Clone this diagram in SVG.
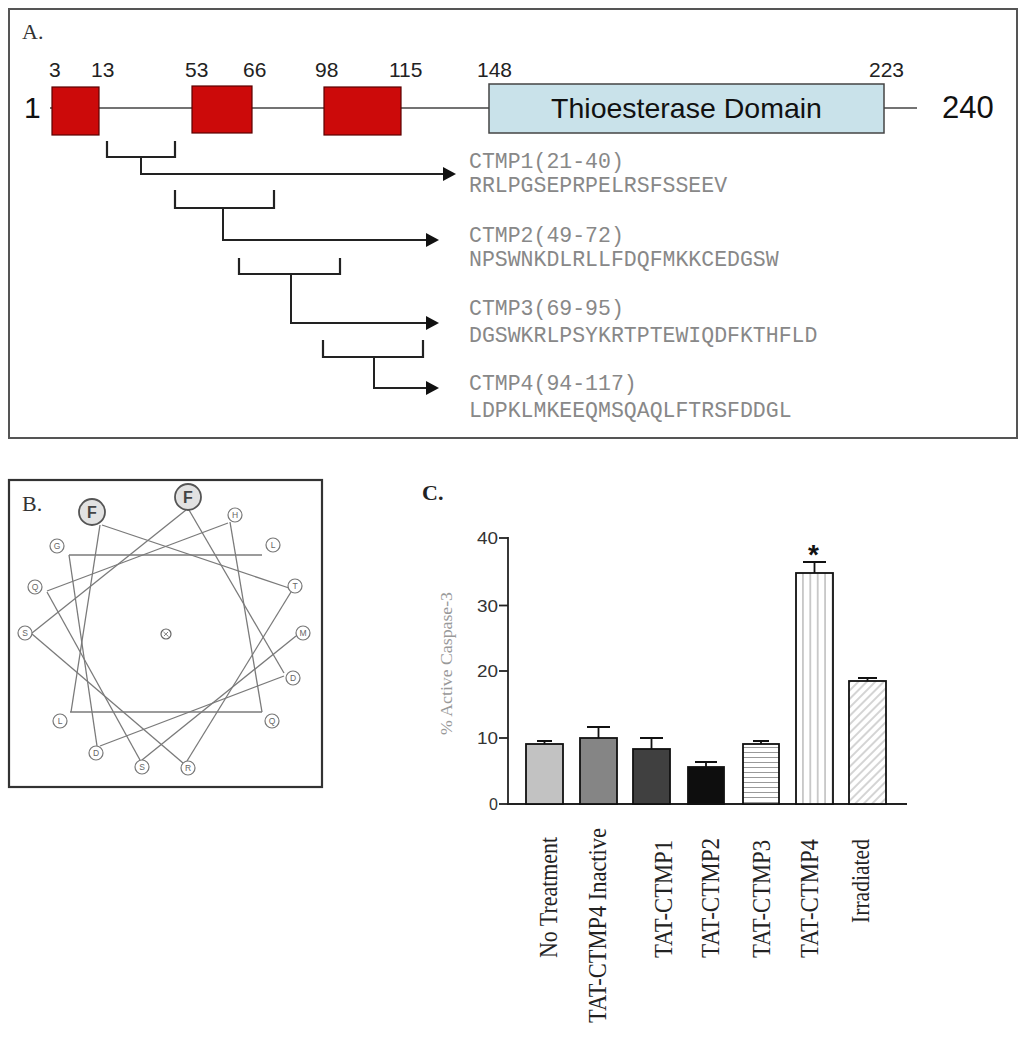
<svg xmlns="http://www.w3.org/2000/svg" width="1027" height="1050" viewBox="0 0 1027 1050">
<style>
.sans{font-family:"Liberation Sans",Arial,sans-serif}
.serif{font-family:"Liberation Serif","Times New Roman",serif}
.mono{font-family:"Liberation Mono","Courier New",monospace;font-size:21.5px;fill:#888}
.num{font-family:"Liberation Sans",Arial,sans-serif;font-size:21px;fill:#222}
.motif{fill:#cc0a0a;stroke:#5a0000;stroke-width:1.2}
.brk{fill:none;stroke:#222;stroke-width:2.2}
.arr{fill:none;stroke:#222;stroke-width:2}
.ah{fill:#111}
.wl{stroke:#7a7a7a;stroke-width:1.3;fill:none}
.res{fill:#fff;stroke:#777;stroke-width:1.2}
.resF{fill:#e2e2e2;stroke:#555;stroke-width:1.8}
.rl{font-family:"Liberation Sans",Arial,sans-serif;font-size:8.5px;fill:#666;text-anchor:middle}
.rf{font-family:"Liberation Sans",Arial,sans-serif;font-size:16px;font-weight:bold;fill:#444;text-anchor:middle}
.bar{stroke:#111;stroke-width:1.8}
.err{stroke:#111;stroke-width:1.8;fill:none}
.tick{font-family:"Liberation Sans",Arial,sans-serif;font-size:16px;fill:#333;text-anchor:end}
.xl{font-family:"Liberation Serif","Times New Roman",serif;font-size:26px;fill:#222;text-anchor:end}
</style>
<defs>
<pattern id="hz" patternUnits="userSpaceOnUse" width="10" height="5"><rect width="10" height="5" fill="#fff"/><line x1="0" y1="2.5" x2="10" y2="2.5" stroke="#999" stroke-width="1"/></pattern>
<pattern id="vt" patternUnits="userSpaceOnUse" width="7.4" height="10"><rect width="7.4" height="10" fill="#fff"/><line x1="3.7" y1="0" x2="3.7" y2="10" stroke="#999" stroke-width="1"/></pattern>
<pattern id="dg" patternUnits="userSpaceOnUse" width="6" height="6" patternTransform="rotate(45)"><rect width="6" height="6" fill="#fff"/><line x1="3" y1="0" x2="3" y2="6" stroke="#aaa" stroke-width="1"/></pattern>
</defs>
<rect width="1027" height="1050" fill="#fff"/>

<!-- Panel A -->
<g id="panelA">
<rect x="9" y="9" width="1008" height="429" fill="#fff" stroke="#555" stroke-width="2"/>
<text x="22" y="39" class="serif" font-size="22" fill="#333">A.</text>
<line x1="50" y1="108" x2="917" y2="108" stroke="#444" stroke-width="1.6"/>
<text x="24" y="118" class="sans" font-size="30" fill="#111">1</text>
<text x="942" y="118" class="sans" font-size="31" fill="#111">240</text>
</g>
<g id="motif1"><rect x="52" y="87" width="47" height="48" class="motif"/><text x="49" y="77" class="num">3</text><text x="91" y="77" class="num">13</text></g>
<g id="motif2"><rect x="192" y="86" width="60" height="47" class="motif"/><text x="185" y="77" class="num">53</text><text x="243" y="77" class="num">66</text></g>
<g id="motif3"><rect x="324" y="87" width="77" height="48" class="motif"/><text x="315" y="77" class="num">98</text><text x="389" y="77" class="num">115</text></g>
<g id="thioesterase"><rect x="489" y="84" width="395" height="49" fill="#c9e2ea" stroke="#444" stroke-width="1.5"/><text x="686.5" y="118" class="sans" font-size="28.5" fill="#111" text-anchor="middle">Thioesterase Domain</text><text x="477" y="77" class="num">148</text><text x="869" y="77" class="num">223</text></g>

<g id="connectors">
<path class="brk" d="M107,141 V157 H175 V141"/>
<path class="arr" d="M141,157 V174 H445"/>
<polygon class="ah" points="456,174 443,167 443,181"/>
<path class="brk" d="M175,190 V208 H274 V190"/>
<path class="arr" d="M223,208 V240 H428"/>
<polygon class="ah" points="439,240 426,233 426,247"/>
<path class="brk" d="M239,258 V274 H340 V258"/>
<path class="arr" d="M291,274 V323 H428"/>
<polygon class="ah" points="439,323 426,316 426,330"/>
<path class="brk" d="M323,340 V357 H423 V340"/>
<path class="arr" d="M374,357 V388 H428"/>
<polygon class="ah" points="439,388 426,381 426,395"/>
</g>

<g id="ctmp1"><text x="469" y="168" class="mono">CTMP1(21-40)</text><text x="469" y="192" class="mono">RRLPGSEPRPELRSFSSEEV</text></g>
<g id="ctmp2"><text x="469" y="242" class="mono">CTMP2(49-72)</text><text x="469" y="266" class="mono">NPSWNKDLRLLFDQFMKKCEDGSW</text></g>
<g id="ctmp3"><text x="469" y="315" class="mono">CTMP3(69-95)</text><text x="469" y="342" class="mono">DGSWKRLPSYKRTPTEWIQDFKTHFLD</text></g>
<g id="ctmp4"><text x="469" y="390" class="mono">CTMP4(94-117)</text><text x="469" y="417" class="mono">LDPKLMKEEQMSQAQLFTRSFDDGL</text></g>

<!-- Panel B -->
<g id="panelB">
<rect x="9" y="480" width="313" height="307" fill="#fff" stroke="#333" stroke-width="2.2"/>
<text x="22" y="511" class="serif" font-size="22" fill="#333">B.</text>
<g id="wheel-lines">
<line class="wl" x1="296" y1="636" x2="142" y2="760"/>
<line class="wl" x1="140" y1="760" x2="47" y2="592"/>
<line class="wl" x1="47" y1="591" x2="228" y2="523"/>
<line class="wl" x1="230" y1="522" x2="262" y2="712"/>
<line class="wl" x1="262" y1="712" x2="70" y2="712"/>
<line class="wl" x1="71" y1="712" x2="100" y2="525"/>
<line class="wl" x1="102" y1="525" x2="289" y2="588"/>
<line class="wl" x1="291" y1="592" x2="187" y2="761"/>
<line class="wl" x1="183" y1="763" x2="32" y2="634"/>
<line class="wl" x1="32" y1="633" x2="186" y2="510"/>
<line class="wl" x1="189" y1="510" x2="284" y2="673"/>
<line class="wl" x1="284" y1="676" x2="100" y2="746"/>
<line class="wl" x1="97" y1="746" x2="69" y2="555"/>
<line class="wl" x1="69" y1="555" x2="262" y2="555"/>
</g>
<g id="res-F1"><circle cx="92" cy="512" r="13" class="resF"/><text x="92" y="518" class="rf">F</text></g>
<g id="res-F2"><circle cx="188" cy="497" r="13" class="resF"/><text x="188" y="503" class="rf">F</text></g>
<g id="res-H"><circle cx="235" cy="515" r="7" class="res"/><text x="235" y="518" class="rl">H</text></g>
<g id="res-L1"><circle cx="273" cy="545" r="7" class="res"/><text x="273" y="548" class="rl">L</text></g>
<g id="res-T"><circle cx="295" cy="586" r="7" class="res"/><text x="295" y="589" class="rl">T</text></g>
<g id="res-M"><circle cx="303" cy="633" r="7" class="res"/><text x="303" y="636" class="rl">M</text></g>
<g id="res-D1"><circle cx="293" cy="678" r="7" class="res"/><text x="293" y="681" class="rl">D</text></g>
<g id="res-Q1"><circle cx="272" cy="721" r="7" class="res"/><text x="272" y="724" class="rl">Q</text></g>
<g id="res-R"><circle cx="188" cy="768" r="7" class="res"/><text x="188" y="771" class="rl">R</text></g>
<g id="res-S1"><circle cx="142" cy="767" r="7" class="res"/><text x="142" y="770" class="rl">S</text></g>
<g id="res-D2"><circle cx="96" cy="753" r="7" class="res"/><text x="96" y="756" class="rl">D</text></g>
<g id="res-L2"><circle cx="60" cy="721" r="7" class="res"/><text x="60" y="724" class="rl">L</text></g>
<g id="res-S2"><circle cx="25" cy="633" r="7" class="res"/><text x="25" y="636" class="rl">S</text></g>
<g id="res-Q2"><circle cx="35" cy="587" r="7" class="res"/><text x="35" y="590" class="rl">Q</text></g>
<g id="res-G"><circle cx="57" cy="546" r="7" class="res"/><text x="57" y="549" class="rl">G</text></g>
<g id="wheel-center"><circle cx="166" cy="634" r="5" fill="#fff" stroke="#666" stroke-width="1.2"/><path d="M163.5,632 L168.5,636.5 M168,632 L164,636" stroke="#777" stroke-width="0.9" fill="none"/></g>
</g>

<!-- Panel C -->
<g id="panelC">
<text x="422" y="500" class="serif" font-size="22" font-weight="bold" fill="#222">C.</text>
<text transform="translate(452,663.5) rotate(-90)" class="serif" font-size="17" fill="#999" text-anchor="middle" textLength="143" lengthAdjust="spacingAndGlyphs">% Active Caspase-3</text>
<g id="axes" stroke="#222" stroke-width="1.8">
<line x1="508" y1="537" x2="508" y2="805"/>
<line x1="507" y1="804" x2="907" y2="804"/>
<line x1="499" y1="538" x2="508" y2="538"/>
<line x1="499" y1="605.5" x2="508" y2="605.5"/>
<line x1="499" y1="671" x2="508" y2="671"/>
<line x1="499" y1="738" x2="508" y2="738"/>
<line x1="499" y1="804" x2="508" y2="804"/>
</g>
<text x="498" y="544" class="tick" textLength="21" lengthAdjust="spacingAndGlyphs">40</text>
<text x="498" y="611.5" class="tick" textLength="21" lengthAdjust="spacingAndGlyphs">30</text>
<text x="498" y="677" class="tick" textLength="21" lengthAdjust="spacingAndGlyphs">20</text>
<text x="498" y="744" class="tick" textLength="21" lengthAdjust="spacingAndGlyphs">10</text>
<text x="498" y="810" class="tick">0</text>
</g>
<g id="bar-notreatment"><rect x="526" y="744" width="37" height="60" fill="#c2c2c2" class="bar"/><path class="err" d="M544.5,744 V741 M537,741 H552"/><text transform="translate(557,837) rotate(-90)" class="xl" textLength="121" lengthAdjust="spacingAndGlyphs">No Treatment</text></g>
<g id="bar-inactive"><rect x="580" y="738" width="37" height="66" fill="#858585" class="bar"/><path class="err" d="M598.5,738 V727 M587,727 H610"/><text transform="translate(606,828) rotate(-90)" class="xl" textLength="195" lengthAdjust="spacingAndGlyphs">TAT-CTMP4 Inactive</text></g>
<g id="bar-ctmp1"><rect x="633" y="749" width="37" height="55" fill="#404040" class="bar"/><path class="err" d="M651.5,749 V738 M640,738 H663"/><text transform="translate(672,840) rotate(-90)" class="xl" textLength="118" lengthAdjust="spacingAndGlyphs">TAT-CTMP1</text></g>
<g id="bar-ctmp2"><rect x="688" y="767" width="36" height="37" fill="#0e0e0e" class="bar"/><path class="err" d="M706,767 V762 M695,762 H717"/><text transform="translate(719,838) rotate(-90)" class="xl" textLength="120" lengthAdjust="spacingAndGlyphs">TAT-CTMP2</text></g>
<g id="bar-ctmp3"><rect x="743" y="744" width="36" height="60" fill="url(#hz)" class="bar"/><path class="err" d="M761,744 V741 M753,741 H769"/><text transform="translate(770,840) rotate(-90)" class="xl" textLength="118" lengthAdjust="spacingAndGlyphs">TAT-CTMP3</text></g>
<g id="bar-ctmp4"><rect x="796" y="573" width="37" height="231" fill="url(#vt)" class="bar"/><path class="err" d="M814.5,573 V562 M803,562 H826"/><text x="813.5" y="564" class="sans" font-size="28" font-weight="bold" fill="#111" text-anchor="middle">*</text><text transform="translate(818,839) rotate(-90)" class="xl" textLength="119" lengthAdjust="spacingAndGlyphs">TAT-CTMP4</text></g>
<g id="bar-irradiated"><rect x="849" y="681" width="37" height="123" fill="url(#dg)" class="bar"/><path class="err" d="M867.5,681 V678 M858,678 H877"/><text transform="translate(869,839) rotate(-90)" class="xl" textLength="84" lengthAdjust="spacingAndGlyphs">Irradiated</text></g>
</svg>
